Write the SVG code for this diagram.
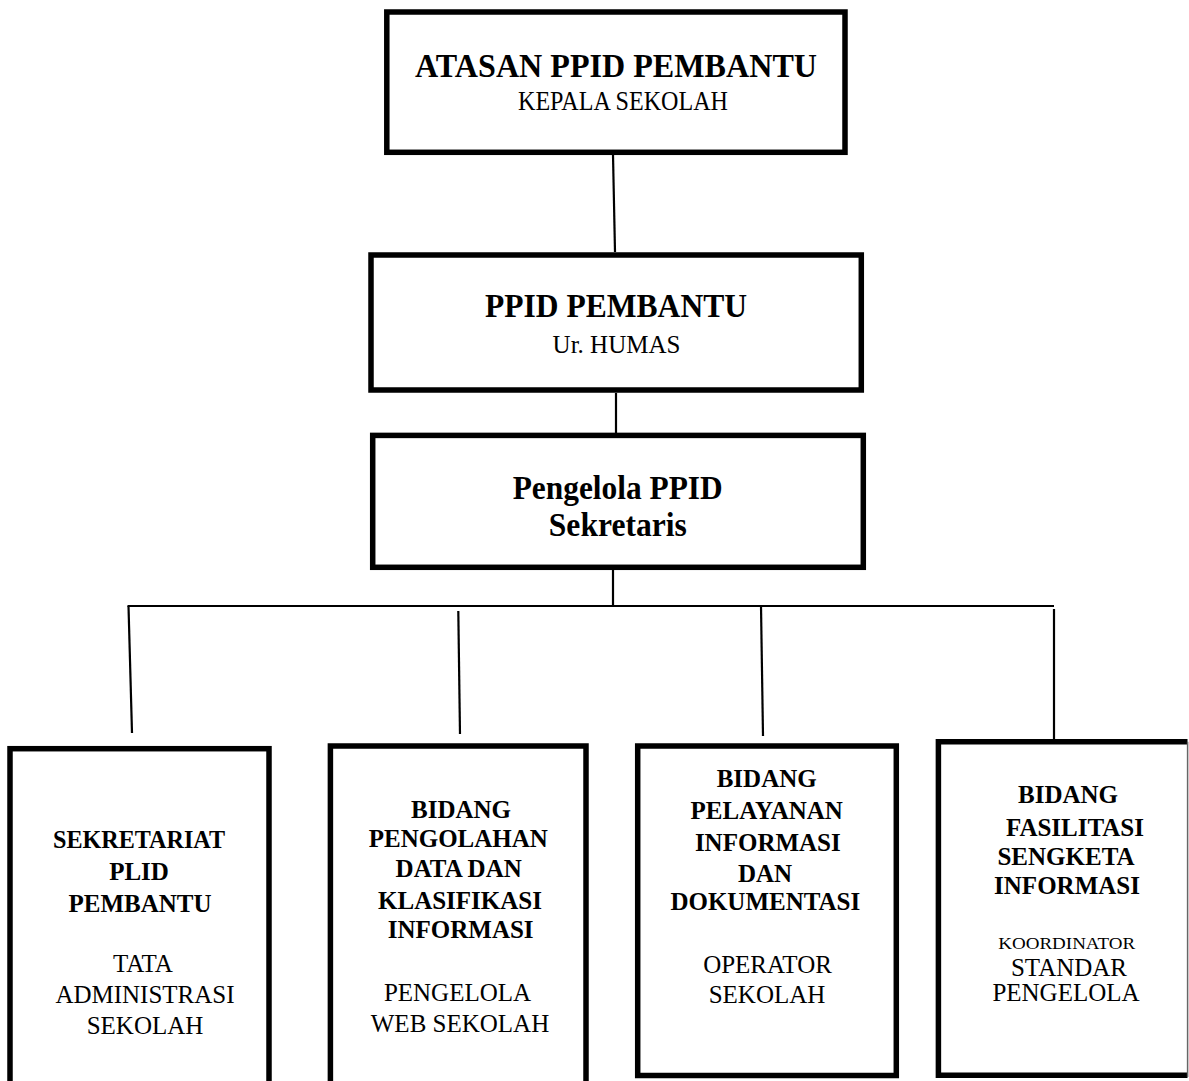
<svg xmlns="http://www.w3.org/2000/svg" width="1189" height="1081" viewBox="0 0 1189 1081">
<style>
  .box { fill: #ffffff; stroke: #000000; stroke-width: 5.5; }
  .conn { stroke: #000000; stroke-width: 2.2; fill: none; }
  .t { font-family: "Liberation Serif", "Times New Roman", serif; fill: #000000; text-anchor: middle; }
  .b { font-weight: bold; }
  .big { font-size: 33px; }
  .mid { font-size: 25px; }
  .sub { font-size: 28px; }
  .sm { font-size: 17px; }
</style>
<rect x="0" y="0" width="1189" height="1081" fill="#ffffff"/>

<g id="connectors">
  <line class="conn" x1="613" y1="155" x2="615" y2="252"/>
  <line class="conn" x1="616" y1="393" x2="616" y2="433"/>
  <line class="conn" x1="613" y1="570" x2="613" y2="605"/>
  <line class="conn" x1="127.5" y1="606" x2="1054" y2="606" stroke-width="2.6"/>
  <line class="conn" x1="128.5" y1="606" x2="132" y2="733"/>
  <line class="conn" x1="458.3" y1="611" x2="460" y2="734"/>
  <line class="conn" x1="761" y1="606" x2="763" y2="736"/>
  <line class="conn" x1="1054" y1="609" x2="1054" y2="745" stroke-width="4"/>
</g>

<g id="atasan">
  <rect class="box" x="386.8" y="12" width="458.2" height="140.3"/>
  <text class="t b big" x="616" y="77" font-size="34" textLength="402" lengthAdjust="spacingAndGlyphs">ATASAN PPID PEMBANTU</text>
  <text class="t sub" x="623" y="110" textLength="210" lengthAdjust="spacingAndGlyphs">KEPALA SEKOLAH</text>
</g>

<g id="ppid">
  <rect class="box" x="371" y="255" width="490.3" height="135"/>
  <text class="t b big" x="616" y="317" textLength="262" lengthAdjust="spacingAndGlyphs">PPID PEMBANTU</text>
  <text class="t mid" x="616.5" y="353">Ur. HUMAS</text>
</g>

<g id="pengelola">
  <rect class="box" x="372.7" y="435.4" width="490.6" height="131.9"/>
  <text class="t b big" x="617.7" y="499" textLength="210" lengthAdjust="spacingAndGlyphs">Pengelola PPID</text>
  <text class="t b big" x="617.8" y="536" textLength="138" lengthAdjust="spacingAndGlyphs">Sekretaris</text>
</g>

<g id="sekretariat">
  <rect class="box" x="10" y="748.7" width="259" height="360"/>
  <text class="t b mid" x="139" y="848" textLength="172" lengthAdjust="spacingAndGlyphs">SEKRETARIAT</text>
  <text class="t b mid" x="139" y="879.5">PLID</text>
  <text class="t b mid" x="140" y="911.5">PEMBANTU</text>
  <text class="t mid" x="143" y="971.7">TATA</text>
  <text class="t mid" x="145" y="1003.3">ADMINISTRASI</text>
  <text class="t mid" x="145" y="1034">SEKOLAH</text>
</g>

<g id="pengolahan">
  <rect class="box" x="330.4" y="746" width="255.6" height="360"/>
  <text class="t b mid" x="461" y="817.5">BIDANG</text>
  <text class="t b mid" x="458.3" y="846.7">PENGOLAHAN</text>
  <text class="t b mid" x="458.7" y="876.7">DATA  DAN</text>
  <text class="t b mid" x="460" y="909.3">KLASIFIKASI</text>
  <text class="t b mid" x="460.7" y="938.3">INFORMASI</text>
  <text class="t mid" x="457.5" y="1000.7">PENGELOLA</text>
  <text class="t mid" x="460" y="1031.7">WEB SEKOLAH</text>
</g>

<g id="pelayanan">
  <rect class="box" x="637.7" y="746" width="258.6" height="329.5"/>
  <text class="t b mid" x="766.7" y="786.7">BIDANG</text>
  <text class="t b mid" x="766.7" y="819.3">PELAYANAN</text>
  <text class="t b mid" x="767.8" y="850.7">INFORMASI</text>
  <text class="t b mid" x="765" y="881.7">DAN</text>
  <text class="t b mid" x="765.3" y="910">DOKUMENTASI</text>
  <text class="t mid" x="767.5" y="973.3">OPERATOR</text>
  <text class="t mid" x="767" y="1002.7">SEKOLAH</text>
</g>

<g id="fasilitasi">
  <rect x="938.4" y="741.7" width="249" height="333.6" fill="#ffffff"/>
  <path d="M1187.5 741.7 H938.4 V1075.3 H1187.5" fill="none" stroke="#000000" stroke-width="5.5"/>
  <line x1="1187.6" y1="741.7" x2="1187.6" y2="1077" stroke="#666666" stroke-width="1.5"/>
  <text class="t b mid" x="1068" y="802.7">BIDANG</text>
  <text class="t b mid" x="1075" y="836">FASILITASI</text>
  <text class="t b mid" x="1066" y="865">SENGKETA</text>
  <text class="t b mid" x="1067" y="894.3">INFORMASI</text>
  <text class="t sm" x="1066.7" y="949" textLength="137" lengthAdjust="spacingAndGlyphs">KOORDINATOR</text>
  <text class="t mid" x="1069" y="975.7">STANDAR</text>
  <text class="t mid" x="1066" y="1000.7">PENGELOLA</text>
</g>
</svg>
